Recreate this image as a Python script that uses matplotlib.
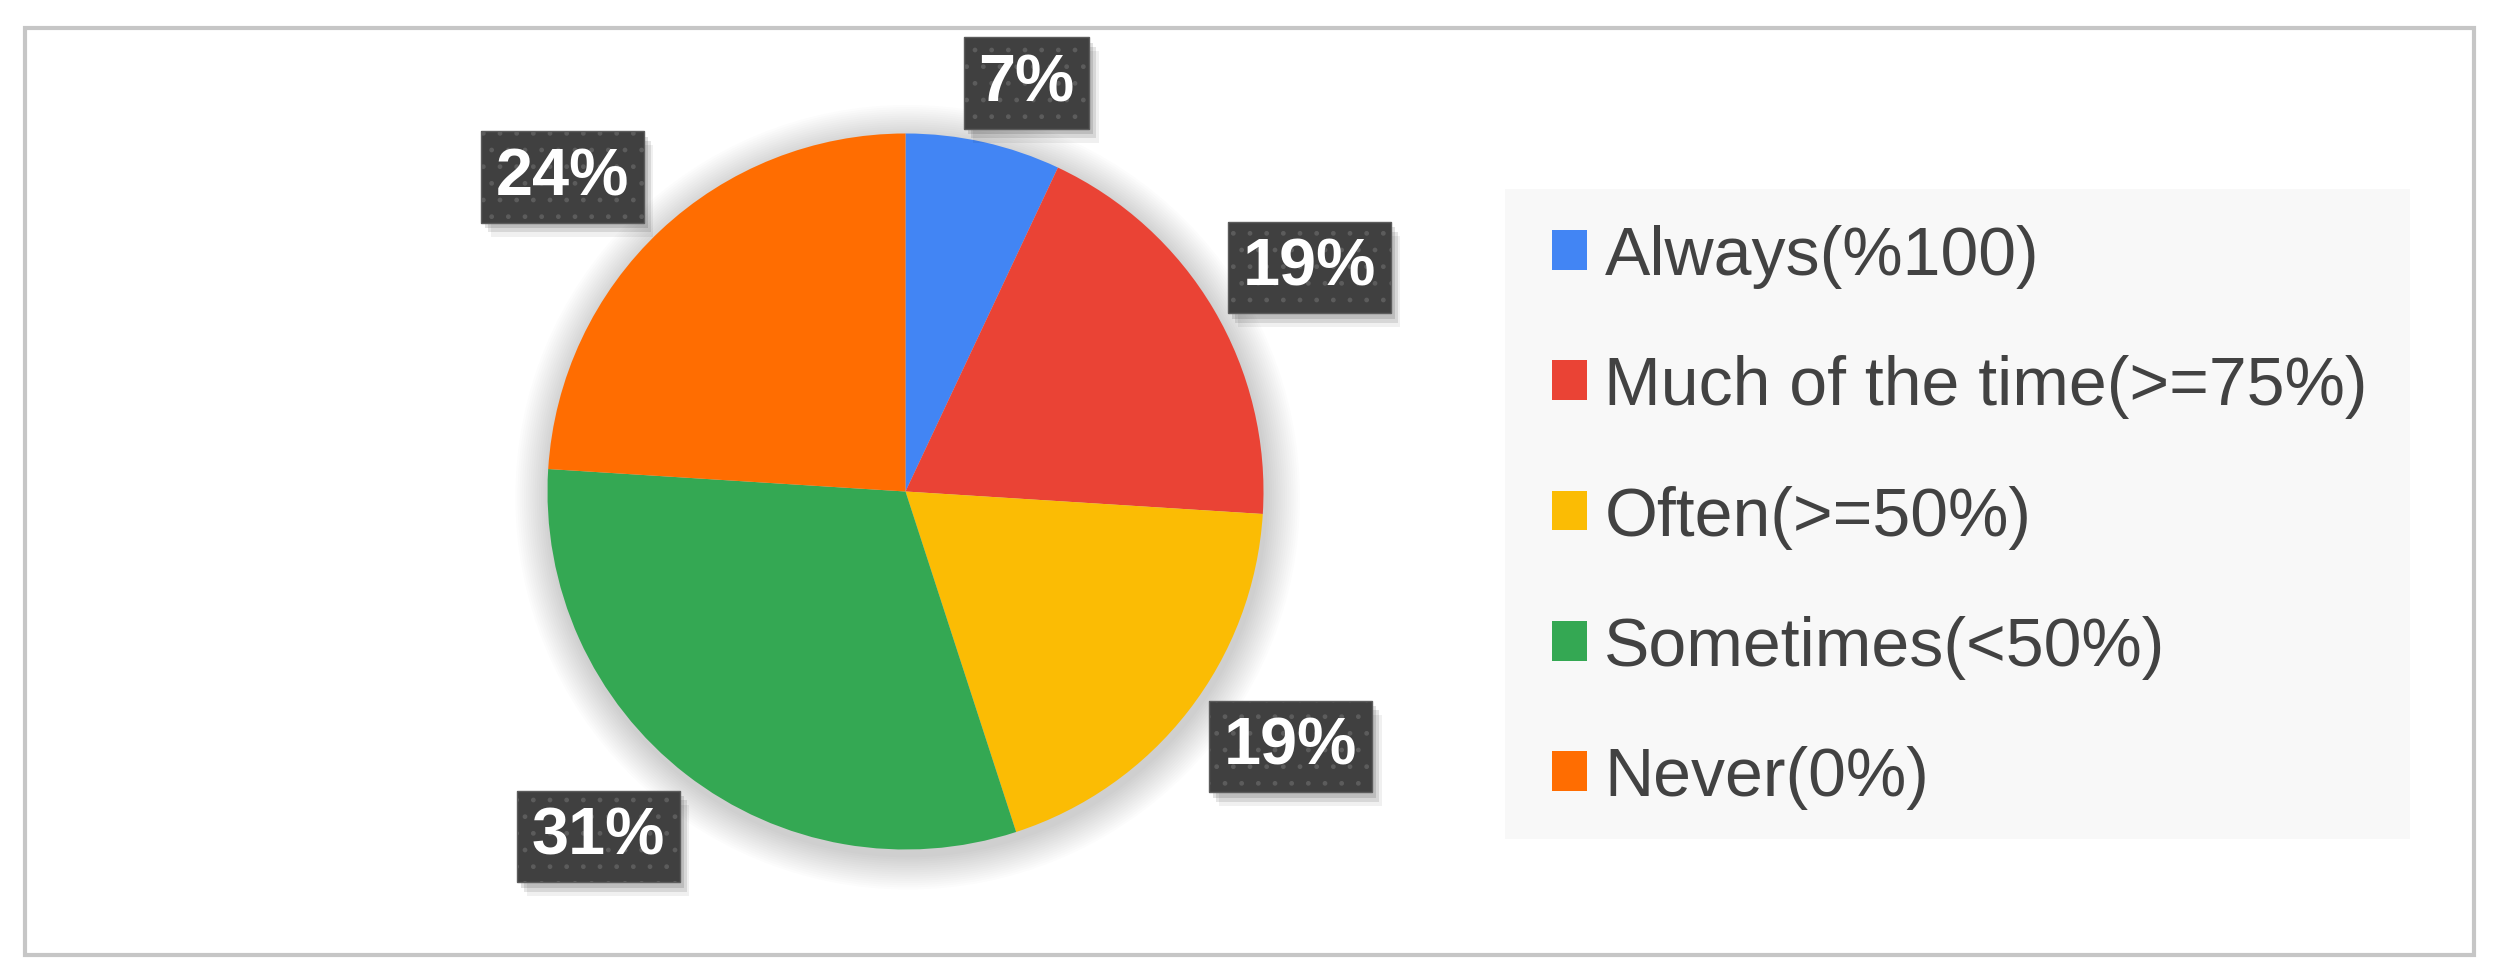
import numpy as np
import matplotlib
matplotlib.use('Agg')
import matplotlib.pyplot as plt
from matplotlib.patches import Patch, Rectangle, Circle
import matplotlib.patheffects as pe

# dados do gráfico
categorias = ['Always(%100)', 'Much of the time(>=75%)', 'Often(>=50%)',
              'Sometimes(<50%)', 'Never(0%)']
percentuais = [7, 19, 19, 31, 24]
cores = ['#4285F4', '#EA4335', '#FBBC04', '#34A853', '#FF6D01']

# ajustes finos de posição dos rótulos (distância radial e giro em graus)
dist_rotulo = [1.19, 1.29, 1.29, 1.29, 1.30]
giro_rotulo = [-3.9, -1.6, 4.3, -3.9, 4.3]


class SombraLisa(pe.withSimplePatchShadow):
    # sombra sem o pontilhado da caixa
    def draw_path(self, renderer, gc, tpath, affine, rgbFace):
        gc1 = renderer.new_gc()
        gc1.copy_properties(gc)
        gc1.set_hatch(None)
        gc1.set_linewidth(0)
        super().draw_path(renderer, gc1, tpath, affine, rgbFace)
        gc1.restore()


W, H = 2502, 979
fig = plt.figure(figsize=(W / 100, H / 100), dpi=100)
fig.patch.set_facecolor('white')

# moldura cinza em volta de tudo
fig.patches.append(Rectangle((25 / W, 1 - 956 / H), (2474 - 25) / W, (956 - 29) / H,
                             transform=fig.transFigure, fill=False,
                             edgecolor='#c6c6c6', linewidth=3))

# fundo da legenda
fig.patches.append(Rectangle((1505 / W, 1 - 840 / H), (2410 - 1505) / W, (840 - 190) / H,
                             transform=fig.transFigure, facecolor='#f8f8f8',
                             edgecolor='none'))

# eixo da pizza (raio 1 = 358 px)
cx, cy, r_px, A = 905.5, 492.5, 358.0, 480.0
ax = fig.add_axes([(cx - A) / W, (H - cy - A) / H, 2 * A / W, 2 * A / H])

# sombra suave em volta da pizza
for k in range(16):
    ax.add_patch(Circle((0.006, -0.016), 1.0 + 0.006 * (k + 1), facecolor='black',
                        edgecolor='none', alpha=0.012, zorder=0))

fatias, _, textos = ax.pie(percentuais, colors=cores, startangle=90, counterclock=False,
                           autopct='%.0f%%', pctdistance=1.29,
                           wedgeprops=dict(linewidth=0))
for f in fatias:
    f.set_zorder(2)

for f, t, d, g in zip(fatias, textos, dist_rotulo, giro_rotulo):
    ang = np.deg2rad((f.theta1 + f.theta2) / 2 + g)
    t.set_position((d * np.cos(ang), d * np.sin(ang)))
    t.set(color='white', fontsize=48, fontweight='bold', family='Liberation Sans',
          ha='center', va='center', zorder=5, clip_on=False)
    t.set_bbox(dict(boxstyle='square,pad=0.22', facecolor='#404040',
                    edgecolor='#5c5c5c', linewidth=1, hatch='.'))
    t.get_bbox_patch().set_path_effects([
        SombraLisa(offset=(3, -4), shadow_rgbFace='#000000', alpha=0.12),
        SombraLisa(offset=(5, -7), shadow_rgbFace='#000000', alpha=0.10),
        SombraLisa(offset=(7, -10), shadow_rgbFace='#000000', alpha=0.06),
        pe.Normal()])

lim = A / r_px
ax.set_xlim(-lim, lim)
ax.set_ylim(-lim, lim)
ax.set_aspect('equal')
ax.axis('off')

# legenda
alcas = [Patch(facecolor=c, edgecolor='none') for c in cores]
leg = fig.legend(alcas, categorias, loc='upper left',
                 bbox_to_anchor=(1552 / W, 1 - 225 / H), bbox_transform=fig.transFigure,
                 borderaxespad=0, frameon=False,
                 prop={'family': 'Liberation Sans', 'size': 49},
                 labelcolor='#424242', handlelength=0.52, handleheight=0.52,
                 handletextpad=0.25, labelspacing=0.975, borderpad=0)

plt.savefig('out.png', dpi=100)
plt.close()
